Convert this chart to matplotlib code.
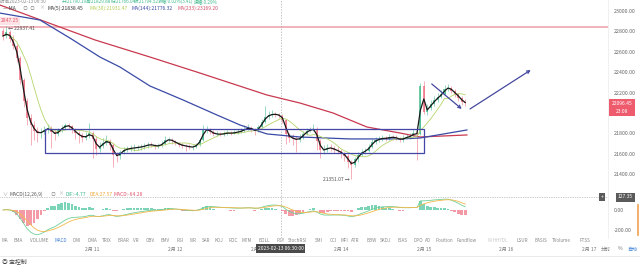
import numpy as np
import pandas as pd
import matplotlib
matplotlib.use('Agg')
import matplotlib.pyplot as plt
import matplotlib.transforms as mtransforms

plt.rcParams['font.family'] = ['Noto Sans CJK SC', 'DejaVu Sans']

## ----------------------------- data ----------------------------------- ##
# hourly candles, first one at 2月10 00:00 - 2h
start_hour = -2
first_open = 22800
closes = [22755, 22790, 22730, 22660, 22540, 22320, 22120, 21950, 21880, 21820,
          21800, 21815, 21835, 21855, 21810, 21790, 21830, 21855, 21880, 21870,
          21840, 21800, 21780, 21760, 21775, 21800, 21750, 21650, 21680, 21710,
          21730, 21690, 21590, 21575, 21620, 21640, 21650, 21655, 21660, 21665,
          21668, 21680, 21690, 21688, 21675, 21680, 21700, 21735, 21740, 21725,
          21705, 21690, 21680, 21675, 21665, 21668, 21690, 21740, 21830, 21840,
          21815, 21795, 21795, 21790, 21800, 21805, 21800, 21810, 21815, 21825,
          21845, 21855, 21840, 21820, 21860, 21915, 21965, 21980, 21990, 21985,
          21975, 21930, 21790, 21760, 21750, 21735, 21760, 21795, 21825, 21835,
          21845, 21730, 21635, 21640, 21660, 21655, 21640, 21625, 21605, 21580,
          21520, 21490, 21545, 21590, 21620, 21630, 21670, 21715, 21735, 21745,
          21755, 21750, 21765, 21760, 21755, 21735, 21755, 21765, 21775, 21805,
          21790, 22265, 22010, 22050, 22090, 22130, 22160, 22190, 22240, 22250,
          22215, 22185, 22150, 22110, 22096.45]
highs = [22830, 22850, 22810, 22760, 22680, 22560, 22340, 22150, 21990, 21920,
         21860, 21850, 21870, 21890, 21870, 21830, 21850, 21880, 21900, 21905,
         21885, 21855, 21820, 21800, 21810, 21900, 21820, 21770, 21720, 21760,
         21780, 21750, 21710, 21620, 21640, 21670, 21680, 21690, 21700, 21690,
         21700, 21710, 21720, 21715, 21700, 21705, 21730, 21770, 21765, 21755,
         21740, 21720, 21710, 21700, 21695, 21690, 21710, 21760, 21885, 21870,
         21850, 21830, 21820, 21815, 21820, 21830, 21825, 21835, 21840, 21850,
         21880, 21890, 21870, 21850, 21880, 21940, 22070, 22020, 22030, 22010,
         22000, 21990, 21940, 21800, 21790, 21770, 21790, 21820, 21850, 21860,
         21895, 21860, 21745, 21690, 21700, 21695, 21680, 21665, 21645, 21620,
         21595, 21540, 21570, 21615, 21650, 21660, 21700, 21750, 21765, 21775,
         21785, 21775, 21790, 21785, 21780, 21765, 21780, 21790, 21800, 21840,
         21860, 22290, 22314, 22090, 22130, 22165, 22200, 22230, 22275, 22280,
         22265, 22240, 22200, 22170, 22135]
lows = [22720, 22740, 22700, 22630, 22500, 22280, 22060, 21880, 21690, 21740,
        21720, 21760, 21790, 21800, 21660, 21740, 21770, 21810, 21830, 21840,
        21800, 21750, 21710, 21720, 21740, 21760, 21560, 21590, 21620, 21660,
        21690, 21640, 21470, 21520, 21550, 21600, 21620, 21625, 21630, 21640,
        21640, 21650, 21660, 21665, 21650, 21655, 21670, 21690, 21715, 21700,
        21690, 21670, 21655, 21630, 21645, 21640, 21655, 21680, 21730, 21800,
        21790, 21775, 21770, 21770, 21775, 21785, 21780, 21790, 21795, 21800,
        21815, 21830, 21815, 21780, 21810, 21850, 21905, 21945, 21960, 21960,
        21950, 21900, 21700, 21720, 21690, 21620, 21715, 21745, 21780, 21810,
        21820, 21640, 21560, 21600, 21620, 21630, 21610, 21595, 21560, 21530,
        21460, 21351.07, 21470, 21520, 21575, 21600, 21615, 21660, 21700, 21720,
        21730, 21725, 21740, 21740, 21735, 21715, 21720, 21745, 21750, 21765,
        21540, 21780, 21990, 21980, 22030, 22070, 22110, 22145, 22180, 22215,
        22195, 22160, 22120, 22080, 22070]

# long moving averages (hour, price)
ma144_hours = [-2.9, 8.7, 17.4, 26.1, 31.9, 40.6, 50.2, 60.0, 66.7, 74.5, 84.1, 98.6, 113.1, 118.9, 132.5]
ma144_values = [22980, 22912, 22735, 22549, 22451, 22265, 22128, 21981, 21883, 21795, 21765, 21746, 21746, 21755, 21834]
ma233_hours = [-2.9, 24.7, 40.6, 55.1, 74.5, 84.1, 93.7, 103.5, 113.1, 118.9, 132.5]
ma233_values = [23059, 22716, 22549, 22392, 22177, 22098, 22000, 21863, 21804, 21765, 21785]

# drawings on the chart
resistance = 22847.25
box_hours = [10.2, 120.0]
box_prices = [21608, 21844]
flag_arrow_hours = [122.3, 131.0]
flag_arrow_prices = [22285, 22040]
target_arrow_hours = [133.4, 151.0]
target_arrow_prices = [22040, 22422]
cross_hour = 78.5
cross_macd = 127.35

price_ticks = [21400, 21600, 21800, 22000, 22200, 22400, 22600, 22800, 23000]
macd_ticks = [0, -200]
day_hours = [24, 48, 72, 96, 120, 144, 168]
day_labels = ['2月 11', '2月 12', '2月 13', '2月 14', '2月 15', '2月 16', '2月 17']
tabs = ['MA', 'EMA', 'VOLUME', 'MACD', 'DMI', 'DMA', 'TRIX', 'BRAR', 'VR', 'OBV', 'EMV',
        'RSI', 'WR', 'SAR', 'KDJ', 'ROC', 'MTM', 'BOLL', 'PSY', 'StochRSI', 'SMI', 'CCI',
        'MFI', 'ATR', 'BBW', 'SKDJ', 'BIAS', 'DPO', 'AO', 'Position', 'Fundflow',
        'W-HHYDL', 'LSUR', 'BASIS', 'TVolume', 'FTSS']
tab_x = [5, 18, 39, 61, 77, 92, 107, 123, 136, 150, 165, 180, 193, 206, 219, 233, 247,
         264, 281, 298, 319, 333, 344, 355, 372, 386, 403, 418, 428, 444, 467, 498, 522,
         541, 561, 585]

## --------------------------- indicators -------------------------------- ##
c = np.array(closes, dtype=float)
o = np.array([first_open] + closes[:-1], dtype=float)
hours = start_hour + np.arange(len(c))
s = pd.Series(c)
ma5 = s.rolling(2, min_periods=1).mean()      # 5 x 15min ~ 1.25h
ma30 = s.rolling(8, min_periods=1).mean()     # 30 x 15min ~ 7.5h
# MACD on the hourly closes (periods halved to follow the short-bar chart)
ema_f = s.ewm(span=6, adjust=False).mean()
ema_s = s.ewm(span=13, adjust=False).mean()
dif = ema_f - ema_s
dea = dif.ewm(span=5, adjust=False).mean()
hist = 2 * (dif - dea)

RED = '#ef6b7e'
GREEN = '#3fb98b'

## ------------------------------ figure --------------------------------- ##
W, H = 640, 266
fig = plt.figure(figsize=(6.4, 2.66), dpi=100)


def fy(y):
    return 1 - y / H


ax = fig.add_axes([0, fy(188), 608 / W, 188 / H])
ax.set_xlim(-2.87, 173.4)
ax.set_ylim(21265, 23108)
axm = fig.add_axes([0, fy(238), 608 / W, 50 / H], sharex=ax)
axm.set_ylim(-280, 220)

for a in (ax, axm):
    for sp in a.spines.values():
        sp.set_visible(False)
    a.yaxis.tick_right()
    a.tick_params(axis='y', length=0, pad=4, labelsize=3.8, labelcolor='#666666')
    a.tick_params(axis='x', length=0, labelbottom=False)

ax.set_yticks(price_ticks)
# 22000 sits under the last-price box
ax.set_yticklabels(['' if v == 22000 else f'{v:.2f}' for v in price_ticks])
axm.set_yticks(macd_ticks)
axm.set_yticklabels([f'{v:.2f}' for v in macd_ticks])

# candles
col = np.where(c >= o, GREEN, RED)
ax.vlines(hours, lows, highs, colors=col, lw=0.5, alpha=0.75, zorder=2)
ax.bar(hours, np.abs(c - o), bottom=np.minimum(o, c), width=0.6, color=col,
       alpha=0.75, zorder=2)

# moving averages
ax.plot(ma233_hours, ma233_values, color='#c8394f', lw=0.9, zorder=3)
ax.plot(ma144_hours, ma144_values, color='#3a4aa6', lw=0.9, zorder=3)
ax.plot(hours, ma30, color='#b5d56a', lw=0.6, zorder=3)
ax.plot(hours, ma5, color='#1a1a1a', lw=0.9, zorder=4)

# drawings
ax.axhline(resistance, color='#eea5ad', lw=1.2, zorder=1)
ax.add_patch(plt.Rectangle((box_hours[0], box_prices[0]), box_hours[1] - box_hours[0],
                           box_prices[1] - box_prices[0], fill=False,
                           edgecolor='#4346a6', lw=0.9, zorder=5))
for hh, pp in [(flag_arrow_hours, flag_arrow_prices), (target_arrow_hours, target_arrow_prices)]:
    ax.annotate('', xy=(hh[1], pp[1]), xytext=(hh[0], pp[0]),
                arrowprops=dict(arrowstyle='->', color='#45489f', lw=0.9,
                                mutation_scale=5, shrinkA=0, shrinkB=0), zorder=5)

# max / min marks
imax = int(np.argmax(highs))
imin = int(np.argmin(lows))
ax.text(hours[imax] + 0.4, highs[imax] - 20, '← 22937.41', fontsize=3.6,
        color='#555555', ha='left', va='center')
ax.text(hours[imin] - 0.6, lows[imin], f'{lows[imin]:.2f} →', fontsize=3.6,
        color='#555555', ha='right', va='center')

# MACD panel
hcol = np.where(hist >= 0, '#45c39a', '#f07080')
axm.bar(hours, hist, width=0.8, color=hcol, alpha=0.7, zorder=2)
axm.plot(hours, dif, color='#6fcf97', lw=0.6, zorder=3)
axm.plot(hours, dea, color='#f2b84b', lw=0.6, zorder=3)
axm.axhline(cross_macd, color='#999999', ls=(0, (1, 1.5)), lw=0.5)

# crosshair
for a in (ax, axm):
    a.axvline(cross_hour, color='#aaaaaa', ls=(0, (2, 2)), lw=0.5, zorder=1)

# separators
fig.add_artist(plt.Line2D([608 / W, 608 / W], [fy(0), fy(238)], color='#eeeeee', lw=0.6))
fig.add_artist(plt.Line2D([0, 1], [fy(256), fy(256)], color='#e6e6e6', lw=0.6))
fig.add_artist(plt.Line2D([638 / W, 638 / W], [fy(205), fy(235)], color='#f0a050', lw=1.2))

## ------------------------------ texts ---------------------------------- ##
fs = 3.6
# header line 1 (clipped at top)
hdr1 = [(0, '时间2023-02-13 06:30', '#888888'), (62, '开:21790.19', '#3fb98b'),
        (86, '高:21829.88', '#3fb98b'), (111, '低:21766.04', '#3fb98b'),
        (134, '收:21794.52', '#3fb98b'), (158, '涨幅:0.02%(3.41)', '#3fb98b'),
        (194, '振幅:0.29%', '#3fb98b')]
for x, t, cl in hdr1:
    fig.text(x / W, fy(1.5), t, fontsize=3.3, color=cl, ha='left', va='center')
hdr2 = [(3, '— MA', '#444444'), (23, '◎', '#aaaaaa'), (30, '◎', '#aaaaaa'),
        (39, '×', '#aaaaaa'), (47, 'MA(5):21838.45', '#333333'),
        (89, 'MA(30):21931.47', '#b5cc55'), (132, 'MA(144):21776.32', '#3a4aa6'),
        (177, 'MA(233):23169.20', '#d5506a')]
for x, t, cl in hdr2:
    fig.text(x / W, fy(8), t, fontsize=fs, color=cl, ha='left', va='center')

fig.text(1 / W, fy(21), '2847.25', fontsize=fs, color='#e0556b', ha='left', va='center',
         bbox=dict(boxstyle='square,pad=0.25', fc='#fde3e6', ec='none'))

hdr3 = [(2, '∨', '#999999'), (10, 'MACD(12,26,9)', '#555555'), (51, '◎', '#aaaaaa'),
        (58, '×', '#aaaaaa'), (65, 'DIF:-4.77', '#3fb98b'), (89, 'DEA:27.57', '#f2a93b'),
        (113, 'MACD:-64.28', '#e0556b')]
for x, t, cl in hdr3:
    fig.text(x / W, fy(194), t, fontsize=fs, color=cl, ha='left', va='center')

# right side labels
fig.text(622 / W, fy(107.5), '22096.45\n23:08', fontsize=fs, color='white', ha='center',
         va='center', linespacing=1.6,
         bbox=dict(boxstyle='square,pad=0.45', fc='#ee5b6d', ec='none'))
fig.text(618 / W, fy(197), '127.35', fontsize=fs, color='white', ha='left', va='center',
         bbox=dict(boxstyle='square,pad=0.4', fc='#5a5a5a', ec='none'))
fig.text(602 / W, fy(197), '+', fontsize=fs, color='white', ha='center', va='center',
         bbox=dict(boxstyle='square,pad=0.3', fc='#5a5a5a', ec='none'))

# indicator tabs
for x, t in zip(tab_x, tabs):
    cl = '#3d7fd9' if t == 'MACD' else ('#c8c8c8' if t == 'W-HHYDL' else '#888888')
    fig.text(x / W, fy(241), t, fontsize=3.3, color=cl, ha='center', va='center')

# date axis
tr = mtransforms.blended_transform_factory(ax.transData, fig.transFigure)
for hh, t in zip(day_hours, day_labels):
    fig.text(hh, fy(249), t, transform=tr, fontsize=fs, color='#777777', ha='center', va='center')
fig.text(cross_hour, fy(248.5), '2023-02-13 06:30:00', transform=tr, fontsize=fs,
         color='white', ha='center', va='center', zorder=6,
         bbox=dict(boxstyle='square,pad=0.35', fc='#4a4a4a', ec='none'))
fig.text(606 / W, fy(249), '分时', fontsize=fs, color='#777777', ha='center', va='center')
fig.text(620 / W, fy(249), '%', fontsize=fs, color='#777777', ha='center', va='center')
fig.text(632 / W, fy(249), '自动', fontsize=fs, color='#3d7fd9', ha='center', va='center')

fig.text(2 / W, fy(261), '◎ 宝控制', fontsize=4.2, color='#444444', ha='left', va='center')

fig.savefig('out.png', dpi=100)
